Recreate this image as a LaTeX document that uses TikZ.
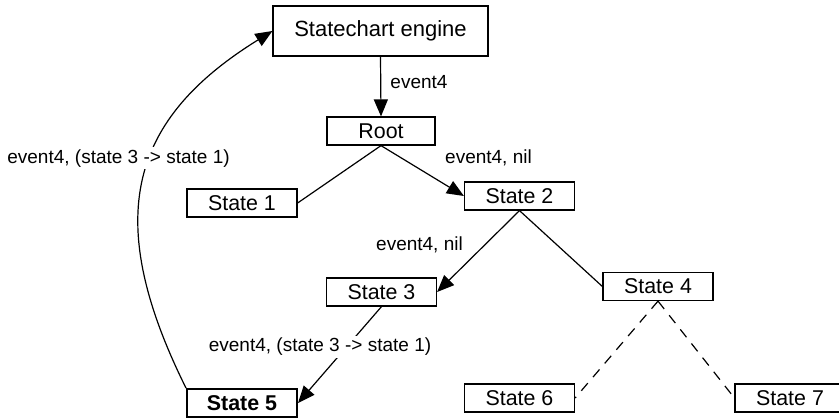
\documentclass[tikz,border=0pt]{standalone}
\usepackage{fontspec}
\setmainfont{Liberation Sans}
\usetikzlibrary{arrows.meta}

\begin{document}
\begin{tikzpicture}[x=0.5pt,y=-0.5pt,
	state/.style={draw,line width=0.6pt,minimum width=55pt,minimum height=14pt,inner sep=0pt,font=\fontsize{10.7}{12}\selectfont},
	lbl/.style={font=\fontsize{9.5}{11}\selectfont,anchor=base,inner sep=1pt},
	arr/.style={-{Triangle[length=8.5pt,width=7pt]},line width=0.6pt},
	dashline/.style={dash pattern=on 5pt off 4pt,line width=0.6pt}]
		\useasboundingbox (0,0) rectangle (839,418);
		\node[state,minimum width=107.5pt,minimum height=25pt,font=\fontsize{11}{13}\selectfont] (engine) at (380.5,31) {Statechart engine};
		\node[state,minimum width=54pt] (root) at (381,131) {Root};
		\foreach \n/\x/\y in {1/242/203,2/519.5/196,3/381.5/292,4/658/286.5,6/519.5/398,7/790/398}{
			\node[state] (s\n) at (\x,\y) {State \n};}
		\node[state,line width=1pt,font=\fontsize{10.7}{12}\selectfont\bfseries] (s5) at (242,403) {State 5};
		% transitions
		\draw[arr] (engine.south) -- (root.north);
		\draw[line width=0.6pt] (root.south) -- (s1.east);
		\draw[arr] (root.south) -- (s2.west);
		\draw[arr] (s2.south) -- (s3.east);
		\draw[line width=0.6pt] (s2.south) -- (s4.west);
		\draw[arr] (s3.south) -- (s5.east);
		\draw[dashline] (s4.south) -- (s6.east);
		\draw[dashline] (s4.south) -- (s7.west);
		\draw[arr] (s5.north west) .. controls (100,215) and (132,118) .. (engine.west);
		% labels
		\node[lbl] (ev1) at (419,88) {event4};
		\node[lbl] (ev2) at (488.5,163) {event4, nil};
		\node[lbl] (ev3) at (419.5,250) {event4, nil};
		\node[lbl,fill=white] (ev4) at (320,351.7) {event4, (state 3 -> state 1)};
		\node[lbl,fill=white] (ev5) at (118.5,163) {event4, (state 3 -> state 1)};
	\end{tikzpicture}
\end{document}
